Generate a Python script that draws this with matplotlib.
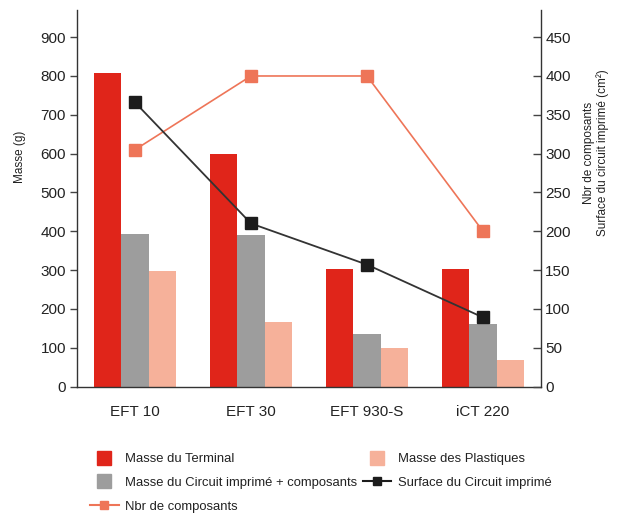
import numpy as np
import matplotlib
matplotlib.use('Agg')
import matplotlib.pyplot as plt
from matplotlib.lines import Line2D

plt.rcParams['font.family'] = ['Liberation Sans Narrow', 'DejaVu Sans Condensed', 'Liberation Sans', 'DejaVu Sans']

produits = ['EFT 10', 'EFT 30', 'EFT 930-S', 'iCT 220']
masse_terminal = [808, 600, 302, 302]
masse_circuit = [393, 390, 135, 160]
masse_plastiques = [298, 166, 99, 69]
nbr_composants = [305, 400, 400, 200]
surface_circuit = [366, 210, 157, 89]

c_red = '#e0251a'
c_gray = '#9d9d9d'
c_pink = '#f6b19a'
c_orange = '#ee7558'
c_black = '#1c1c1c'
c_text = '#222222'

fig = plt.figure(figsize=(6.22, 5.13), dpi=100)
ax = fig.add_axes([77/622, 1 - 386.5/513, (541-77)/622, (386.5-10)/513])
ax2 = ax.twinx()

x = np.arange(len(produits))
w = 0.237
ax.bar(x - w, masse_terminal, w, color=c_red, zorder=2)
ax.bar(x, masse_circuit, w, color=c_gray, zorder=2)
ax.bar(x + w, masse_plastiques, w, color=c_pink, zorder=2)

ax2.plot(x, nbr_composants, color=c_orange, lw=1.2, marker='s', ms=8.6,
         mfc=c_orange, mec=c_orange, zorder=3)
ax2.plot(x, surface_circuit, color='#333333', lw=1.3, marker='s', ms=8.6,
         mfc=c_black, mec=c_black, zorder=4)

ax.set_xlim(-0.5, 3.5)
ax.set_ylim(0, 970)
ax2.set_ylim(0, 485)
ax.set_yticks(range(0, 901, 100))
ax2.set_yticks(range(0, 451, 50))
ax.set_xticks(x)
ax.set_xticklabels(produits, fontsize=11, color=c_text)
ax.tick_params(axis='x', length=0, pad=13)
ax.tick_params(axis='y', direction='out', length=5, width=1, color='#444444',
               labelsize=11, labelcolor=c_text, pad=3)
ax2.tick_params(axis='y', direction='in', length=6, width=1, color='#444444',
                labelsize=11, labelcolor=c_text, pad=3)

for a in (ax, ax2):
    a.spines['top'].set_visible(False)
    for s in ('left', 'right', 'bottom'):
        a.spines[s].set_color('#333333')
        a.spines[s].set_linewidth(1)
ax.spines['right'].set_visible(False)
ax2.spines['left'].set_visible(False)
ax2.spines['bottom'].set_visible(False)

fig.text(20/622, 1 - 157/513, 'Masse (g)', rotation=90, ha='center', va='center',
         fontsize=8.5, color=c_text)
fig.text(596/622, 1 - 153/513, 'Nbr de composants\nSurface du circuit imprimé (cm²)',
         rotation=90, ha='center', va='center', multialignment='center',
         fontsize=8.5, color=c_text, linespacing=1.1)

handles = [
    Line2D([], [], ls='none', marker='s', ms=10.5, color=c_red),
    Line2D([], [], ls='none', marker='s', ms=10.5, color=c_gray),
    Line2D([], [], color=c_orange, lw=1.5, marker='s', ms=6, mfc=c_orange, mec=c_orange),
    Line2D([], [], ls='none', marker='s', ms=10.5, color=c_pink),
    Line2D([], [], color=c_black, lw=1.5, marker='s', ms=6, mfc=c_black, mec=c_black),
]
labels = ['Masse du Terminal', 'Masse du Circuit imprimé + composants', 'Nbr de composants',
          'Masse des Plastiques', 'Surface du Circuit imprimé']
leg = fig.legend(handles, labels, loc='upper left', bbox_to_anchor=(90/622, 1 - 453/513),
                 ncol=2, frameon=False, fontsize=9.4, handlelength=2.2,
                 handletextpad=0.5, labelspacing=0.9, columnspacing=0.4,
                 borderpad=0, borderaxespad=0)
for t in leg.get_texts():
    t.set_color(c_text)

fig.savefig('out.png', dpi=100)
